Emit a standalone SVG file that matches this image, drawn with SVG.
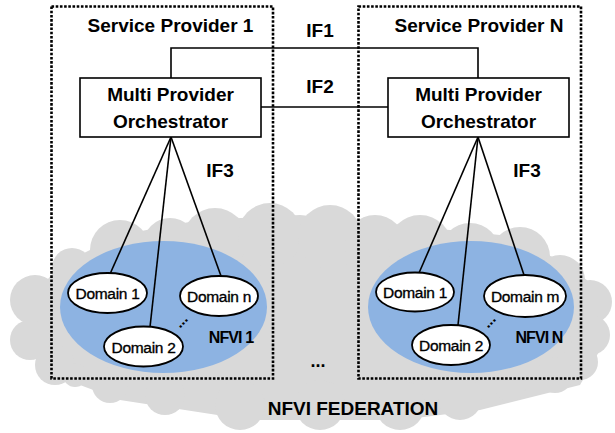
<svg xmlns="http://www.w3.org/2000/svg" width="615" height="433" viewBox="0 0 615 433">
  <style>
    .cloud { fill: #d9d9d9; stroke: none; }
    .nfvi { fill: #8db3e2; stroke: none; }
    .sp { fill: none; stroke: #000; stroke-width: 2.6; stroke-dasharray: 2.6 1.6; }
    .mpo { fill: #fff; stroke: #000; stroke-width: 1.6; }
    .dom { fill: #fff; stroke: #000; stroke-width: 1.8; }
    .link { fill: none; stroke: #000; stroke-width: 1.6; }
    .t { font-family: "Liberation Sans", Arial, sans-serif; font-weight: bold; fill: #000; text-anchor: middle; }
    .big { font-size: 19px; }
    .dt { font-family: "Liberation Sans", Arial, sans-serif; font-size: 15.5px; fill: #000; stroke: #000; stroke-width: 0.35; text-anchor: middle; letter-spacing: -0.3px; }
    .nl { font-size: 16px; letter-spacing: -0.9px; }
  </style>

  <!-- federation cloud: body plus scalloped lobes -->
  <g id="federation">
    <g class="cloud">
      <polygon points="30,300 60,265 120,235 200,220 300,215 400,225 500,235 560,260 600,290 600,350 580,385 480,410 400,420 250,420 120,400 40,370"/>
      <circle cx="35" cy="300" r="25"/>
      <circle cx="30" cy="340" r="20"/>
      <circle cx="55" cy="365" r="20"/>
      <circle cx="72" cy="268" r="20"/>
      <circle cx="120" cy="250" r="30"/>
      <circle cx="170" cy="245" r="27"/>
      <circle cx="215" cy="240" r="32"/>
      <circle cx="270" cy="235" r="32"/>
      <circle cx="330" cy="237" r="32"/>
      <circle cx="375" cy="245" r="30"/>
      <circle cx="420" cy="247" r="32"/>
      <circle cx="470" cy="253" r="30"/>
      <circle cx="520" cy="257" r="30"/>
      <circle cx="560" cy="280" r="25"/>
      <circle cx="590" cy="302" r="22"/>
      <circle cx="590" cy="335" r="20"/>
      <circle cx="580" cy="362" r="18"/>
      <circle cx="555" cy="375" r="18"/>
      <circle cx="510" cy="385" r="16"/>
      <circle cx="460" cy="398" r="22"/>
      <circle cx="400" cy="405" r="25"/>
      <circle cx="320" cy="405" r="25"/>
      <circle cx="240" cy="405" r="25"/>
      <circle cx="165" cy="395" r="20"/>
      <circle cx="110" cy="385" r="18"/>
      <circle cx="75" cy="375" r="12"/>
    </g>
    <text class="t big" x="353" y="415">NFVI FEDERATION</text>
    <text class="t" x="318" y="367" font-size="18">...</text>
  </g>

  <!-- infrastructure pools -->
  <g id="nfvi-1">
    <ellipse class="nfvi" cx="163.5" cy="307" rx="103.5" ry="66"/>
    <text class="t nl" x="231" y="343">NFVI 1</text>
  </g>
  <g id="nfvi-n">
    <ellipse class="nfvi" cx="471" cy="307" rx="103" ry="66"/>
    <text class="t nl" x="539" y="343">NFVI N</text>
  </g>

  <!-- provider boundaries -->
  <g id="provider-1">
    <rect class="sp" x="51.5" y="6.5" width="221.5" height="372"/>
    <text class="t big" x="170.5" y="32">Service Provider 1</text>
  </g>
  <g id="provider-n">
    <rect class="sp" x="358.5" y="6.5" width="222.5" height="372"/>
    <text class="t big" x="479" y="32">Service Provider N</text>
  </g>

  <!-- interfaces -->
  <g id="connectors">
    <polyline class="link" points="171,78 171,48 478,48 478,78"/>
    <line class="link" x1="261" y1="107" x2="388" y2="107"/>
    <line class="link" x1="171" y1="137" x2="110" y2="274"/>
    <line class="link" x1="171" y1="137" x2="150" y2="327"/>
    <line class="link" x1="171" y1="137" x2="221" y2="276"/>
    <line class="link" x1="478" y1="137" x2="419" y2="273"/>
    <line class="link" x1="478" y1="137" x2="458" y2="325"/>
    <line class="link" x1="478" y1="137" x2="524" y2="275"/>
    <text class="t big" x="320" y="37">IF1</text>
    <text class="t big" x="320" y="93">IF2</text>
    <text class="t big" x="220" y="177">IF3</text>
    <text class="t big" x="527" y="177">IF3</text>
  </g>

  <!-- orchestrators -->
  <g id="mpo-1">
    <rect class="mpo" x="80" y="78" width="181" height="59"/>
    <text class="t big" x="170.5" y="101">Multi Provider</text>
    <text class="t big" x="170.5" y="128">Orchestrator</text>
  </g>
  <g id="mpo-n">
    <rect class="mpo" x="388" y="78" width="181" height="59"/>
    <text class="t big" x="478.5" y="101">Multi Provider</text>
    <text class="t big" x="478.5" y="128">Orchestrator</text>
  </g>

  <!-- domains of provider 1 -->
  <g id="p1-domain-1">
    <ellipse class="dom" cx="107.5" cy="293" rx="39.5" ry="20"/>
    <text class="dt" x="107.5" y="299">Domain 1</text>
  </g>
  <g id="p1-domain-2">
    <ellipse class="dom" cx="143.5" cy="346.5" rx="39.5" ry="20"/>
    <text class="dt" x="143.5" y="352.5">Domain 2</text>
  </g>
  <g id="p1-domain-n">
    <ellipse class="dom" cx="219" cy="296" rx="39" ry="20"/>
    <text class="dt" x="219" y="302">Domain n</text>
  </g>
  <text class="t" x="181.5" y="325.5" font-size="15" transform="rotate(-45 181.5 321.5)">...</text>

  <!-- domains of provider N -->
  <g id="pn-domain-1">
    <ellipse class="dom" cx="415" cy="292" rx="39" ry="19.5"/>
    <text class="dt" x="415" y="298">Domain 1</text>
  </g>
  <g id="pn-domain-2">
    <ellipse class="dom" cx="451" cy="345" rx="39" ry="20"/>
    <text class="dt" x="451" y="351">Domain 2</text>
  </g>
  <g id="pn-domain-m">
    <ellipse class="dom" cx="525" cy="296" rx="41" ry="21"/>
    <text class="dt" x="525" y="302">Domain m</text>
  </g>
  <text class="t" x="489.5" y="325.5" font-size="15" transform="rotate(-45 489.5 321.5)">...</text>
</svg>
